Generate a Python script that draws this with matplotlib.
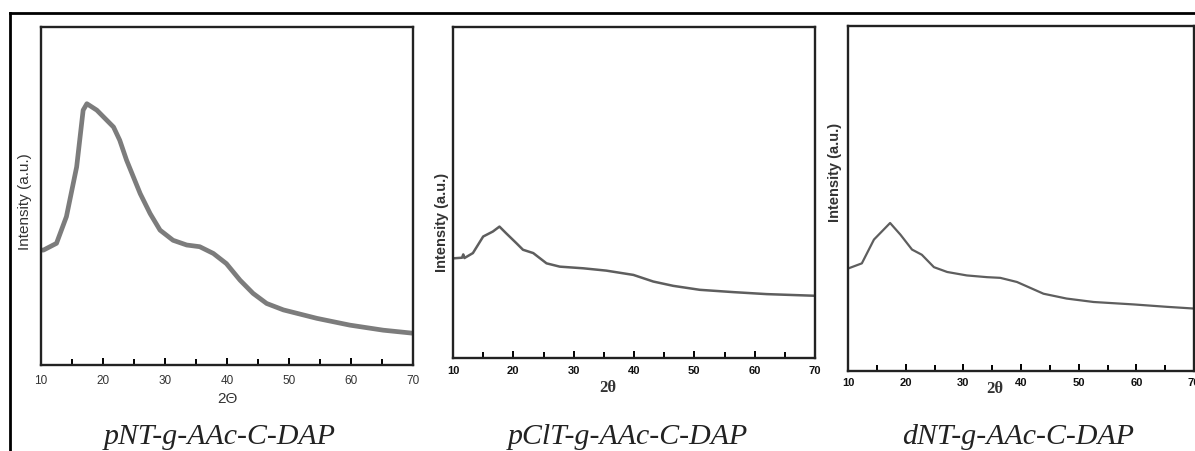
import matplotlib
matplotlib.use("Agg")
import matplotlib.pyplot as plt
from matplotlib.lines import Line2D

W, H = 1195, 451

# 2-theta positions and relative intensity (fraction of axis height)
pnt_x = [10, 10.4, 12.5, 14.1, 15.75, 16.8, 17.4, 19, 21.7, 22.7, 23.8, 26, 27.6, 29.2,
         31.3, 33.5, 35.6, 37.8, 39.9, 42.1, 44.2, 46.4, 49.1, 54.5, 59.8, 65.2, 70]
pnt_y = [0.340, 0.340, 0.360, 0.439, 0.586, 0.754, 0.773, 0.754, 0.704, 0.665, 0.606,
         0.507, 0.448, 0.399, 0.369, 0.355, 0.350, 0.330, 0.300, 0.251, 0.212, 0.182,
         0.163, 0.138, 0.118, 0.103, 0.094]

pclt_x = [10, 11.5, 11.7, 11.9, 13.3, 15, 16.6, 17.7, 18.8, 20.5, 21.6, 23.3, 25.5, 27.7,
          31.6, 35.4, 39.9, 43.2, 46.5, 50.9, 56.5, 62, 70]
pclt_y = [0.301, 0.303, 0.313, 0.302, 0.317, 0.367, 0.382, 0.397, 0.377, 0.347, 0.327,
          0.317, 0.286, 0.276, 0.271, 0.264, 0.251, 0.231, 0.218, 0.206, 0.199, 0.193, 0.188]

dnt_x = [10, 12.4, 14.5, 15.9, 17.3, 19.1, 21.1, 22.8, 24.9, 27.2, 30.6, 34.1, 36.4,
         39.3, 43.9, 47.9, 52.6, 59.5, 65.3, 70]
dnt_y = [0.297, 0.312, 0.381, 0.405, 0.429, 0.395, 0.352, 0.337, 0.301, 0.287, 0.277,
         0.272, 0.270, 0.258, 0.224, 0.210, 0.200, 0.193, 0.186, 0.181]

titles = ["pNT-g-AAc-C-DAP", "pClT-g-AAc-C-DAP", "dNT-g-AAc-C-DAP"]
xlabels = ["2\u0398", "2\u03b8", "2\u03b8"]
xticks = [10, 20, 30, 40, 50, 60, 70]

fig = plt.figure(figsize=(W / 100, H / 100), dpi=100)


def px_axes(left, top, right, bottom):
    return fig.add_axes([left / W, 1 - bottom / H, (right - left) / W, (bottom - top) / H])


# outer frame (top and left edges visible)
fig.add_artist(Line2D([10 / W, 10 / W], [0, 1 - 13 / H], transform=fig.transFigure,
                      color="black", lw=2))
fig.add_artist(Line2D([10 / W, 1], [1 - 13 / H, 1 - 13 / H], transform=fig.transFigure,
                      color="black", lw=2))

panels = [
    dict(box=(41, 27, 413, 365), x=pnt_x, y=pnt_y, lw=3.4, color="#7c7c7c", bold=False,
         ylab=(25, 202), xlab=(227, 399), tick_pad=7, title_x=220, tsize=8.5),
    dict(box=(453, 27, 815, 358), x=pclt_x, y=pclt_y, lw=1.8, color="#5e5e5e", bold=True,
         ylab=(442, 222), xlab=(608, 388), tick_pad=6, title_x=628, tsize=8),
    dict(box=(848, 26, 1194, 371), x=dnt_x, y=dnt_y, lw=1.6, color="#5e5e5e", bold=True,
         ylab=(835, 172), xlab=(995, 389), tick_pad=5, title_x=1018, tsize=8),
]

for i, p in enumerate(panels):
    ax = px_axes(*p["box"])
    ax.plot(p["x"], p["y"], color=p["color"], lw=p["lw"], solid_joinstyle="round")
    ax.set_xlim(10, 70)
    ax.set_ylim(0, 1)
    ax.set_yticks([])
    ax.set_xticks(xticks)
    ax.set_xticks([15, 25, 35, 45, 55, 65], minor=True)
    weight = "bold" if p["bold"] else "normal"
    ax.set_xticklabels([str(t) for t in xticks], fontsize=p["tsize"], fontweight=weight,
                       color="#333333" if not p["bold"] else "#111111",
                       family="Liberation Sans")
    ax.tick_params(axis="x", which="both", direction="in", length=5, width=1.4,
                   pad=p["tick_pad"])
    ax.tick_params(axis="x", which="minor", length=4)
    for s in ax.spines.values():
        s.set_linewidth(1.7)
        s.set_color("#222222")
    fig.text(p["ylab"][0] / W, 1 - p["ylab"][1] / H, "Intensity (a.u.)", rotation=90,
             ha="center", va="center", fontsize=11 if not p["bold"] else 10.5,
             fontweight=weight, color="#333333", family="Liberation Sans")
    fig.text(p["xlab"][0] / W, 1 - p["xlab"][1] / H, xlabels[i], ha="center", va="center",
             fontsize=11 if i == 0 else 12, fontweight=weight, color="#333333",
             family="Liberation Sans" if i == 0 else "Liberation Serif")
    fig.text(p["title_x"] / W, 1 - 444 / H, titles[i], ha="center", va="baseline",
             fontsize=21.5, style="italic", family="Liberation Serif", color="#222222")

fig.savefig("out.png", dpi=100)
